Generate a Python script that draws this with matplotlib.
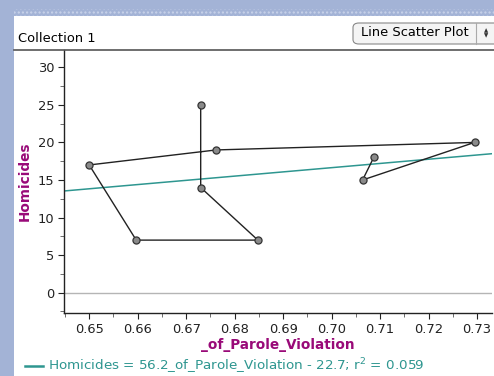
import matplotlib
matplotlib.use("Agg")
import matplotlib.pyplot as plt
from matplotlib.patches import Rectangle, FancyBboxPatch
from matplotlib.ticker import MultipleLocator

plt.rcParams['font.family'] = ['DejaVu Sans']

parole_violation = [0.673, 0.673, 0.6848, 0.6597, 0.650, 0.6762, 0.7295, 0.7064, 0.7087]
homicides = [25, 14, 7, 7, 17, 19, 20, 15, 18]
slope = 56.2
intercept = -22.7
r2 = 0.059
x_ticks = [0.65, 0.66, 0.67, 0.68, 0.69, 0.70, 0.71, 0.72, 0.73]
y_ticks = [0, 5, 10, 15, 20, 25, 30]

W, H = 494, 376
fig = plt.figure(figsize=(W / 100, H / 100), dpi=100, facecolor='white')

def fx(px):
    return px / W

def fy(py):
    return 1 - py / H

# frame decorations
fig.patches.append(Rectangle((0, fy(376)), fx(14), 1, transform=fig.transFigure,
                             facecolor='#a3b3d6', edgecolor='none', zorder=0))
fig.patches.append(Rectangle((0, fy(16)), 1, 16 / H, transform=fig.transFigure,
                             facecolor='#a3b3d6', edgecolor='none', zorder=0))
fig.patches.append(Rectangle((fx(14), fy(16)), 1, 7 / H, transform=fig.transFigure,
                             facecolor='#a3b3d6', edgecolor='#c9d3ea', hatch='....',
                             linewidth=0, zorder=0))
fig.lines.append(plt.Line2D([fx(14), 1], [fy(49.5), fy(49.5)], transform=fig.transFigure,
                            color='#555555', linewidth=1.2))
fig.text(fx(18), fy(38), 'Collection 1', fontsize=9.4, va='center', ha='left', color='black')
fig.patches.append(FancyBboxPatch((fx(353), fy(44)), fx(150), 21 / H,
                                  boxstyle='round,pad=0,rounding_size=0.012',
                                  transform=fig.transFigure, facecolor='#f4f4f4',
                                  edgecolor='#888888', linewidth=0.8))
fig.text(fx(361), fy(33), 'Line Scatter Plot', fontsize=9.4, va='center', ha='left', color='black')
fig.lines.append(plt.Line2D([fx(476), fx(476)], [fy(23), fy(44)], transform=fig.transFigure,
                            color='#aaaaaa', linewidth=0.8))
fig.text(fx(486), fy(33), '\u25B2', fontsize=4, va='bottom', ha='center', color='#333333')
fig.text(fx(486), fy(33), '\u25BC', fontsize=4, va='top', ha='center', color='#333333')

ax = fig.add_axes([fx(64), fy(313), fx(492 - 64), (313 - 50) / H])
xmin, xmax = 0.6448, 0.7331
ax.set_xlim(xmin, xmax)
ax.set_ylim(-2.7, 32.3)

ax.axhline(0, color='#b5b5b5', linewidth=1.0, zorder=1)
ax.plot([xmin, xmax], [slope * xmin + intercept, slope * xmax + intercept],
        color='#2e9690', linewidth=1.1, zorder=2)
ax.plot(parole_violation, homicides, color='#222222', linewidth=1.0, zorder=3)
ax.scatter(parole_violation, homicides, s=26, facecolor='#8a8a8a', edgecolor='#333333',
           linewidth=0.9, zorder=4)

for s in ['top', 'right']:
    ax.spines[s].set_visible(False)
for s in ['left', 'bottom']:
    ax.spines[s].set_color('#222222')
    ax.spines[s].set_linewidth(1.0)

ax.set_xticks(x_ticks)
ax.set_xticklabels([f'{v:.2f}' for v in x_ticks])
ax.set_yticks(y_ticks)
ax.xaxis.set_minor_locator(MultipleLocator(0.005))
ax.yaxis.set_minor_locator(MultipleLocator(2.5))
ax.tick_params(which='major', length=4, width=0.8, labelsize=9.4, colors='#222222', pad=3,
               direction='out')
ax.tick_params(which='minor', length=3, width=0.6, colors='#555555', direction='out')

ax.set_ylabel('Homicides', fontsize=9.8, fontweight='bold', color='#990a78', labelpad=4)
ax.set_xlabel('_of_Parole_Violation', fontsize=9.8, fontweight='bold', color='#990a78', labelpad=2)

fig.lines.append(plt.Line2D([fx(25), fx(43)], [fy(366), fy(366)], transform=fig.transFigure,
                            color='#2e9690', linewidth=1.8))
fig.text(fx(48), fy(366),
         f'Homicides = {slope}_of_Parole_Violation - {abs(intercept)}; r$^2$ = {r2}',
         fontsize=9.7, va='center', ha='left', color='#2e9690')

fig.savefig('out.png', dpi=100, facecolor='white')
